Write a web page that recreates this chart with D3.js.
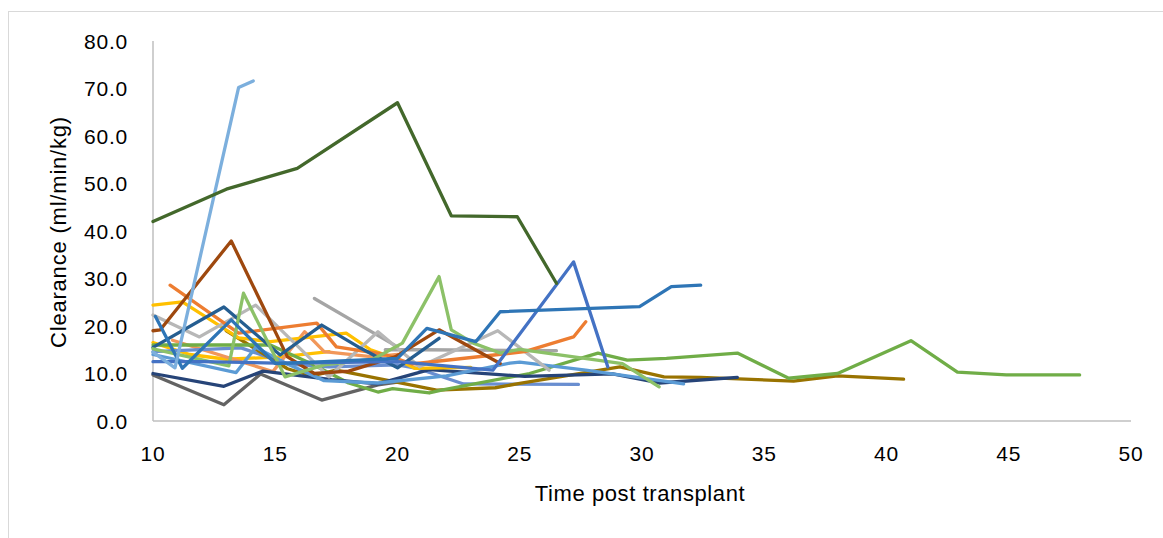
<!DOCTYPE html>
<html>
<head>
<meta charset="utf-8">
<script src="https://cdn.jsdelivr.net/npm/d3@7"></script>
<style>
  body { margin: 0; background: #fff; }
  text { font-family: "Liberation Sans", Arial, sans-serif; fill: #000; }
</style>
</head>
<body>
<div id="chart"></div>
<script>
// Tick values
const xTicks = [10, 15, 20, 25, 30, 35, 40, 45, 50];
const yTicks = [0, 10, 20, 30, 40, 50, 60, 70, 80];

// One array per patient: [time, clearance]
const darkGreen = [[10, 42], [13, 48.8], [15.9, 53.2], [20, 67], [22.2, 43.2], [24.9, 43], [26.5, 29]];
const skyBlue = [[10, 14.5], [10.9, 11.2], [13.5, 70.2], [14.1, 71.6]];
const brown = [[10, 19], [10.3, 19.2], [13.2, 37.9], [15.5, 13.5], [16.6, 10], [18, 10.5], [19.9, 13.5], [21.7, 19.2], [24.2, 12.1]];
const orange = [[10.7, 28.6], [13.5, 18.5], [16.7, 20.6], [17.5, 15.6], [19.5, 14], [20.6, 12], [25.2, 14.6], [27.2, 17.7], [27.7, 20.9]];
const lightOrange = [[10.8, 17], [14.9, 10.4], [16.2, 18.8], [17, 14.6], [19, 13.5], [20, 14]];
const gray1 = [[10, 22.3], [11.9, 17.7], [14.2, 24.4], [17.2, 9.3], [19.2, 18.8], [20.9, 11.4], [24.1, 19], [26.2, 10.7]];
const gray2 = [[16.6, 25.8], [20, 15.6]];
const gray3 = [[19.5, 15], [21, 15], [26.5, 14.8]];
const gold = [[10, 24.4], [11.2, 25.1], [13.5, 17.5], [14.8, 16.7], [17.9, 18.5], [18.9, 15], [19.9, 13.2], [20.7, 11.1], [23, 11.3]];
const gold2 = [[10, 16.5], [11.5, 14], [13, 13], [15.2, 13.5], [17.2, 14.6]];
const blue2 = [[10, 14], [13.4, 10.2], [14.2, 15.5], [15.5, 12], [17, 8.5], [19.2, 8], [22, 9.5], [24.6, 12.2], [25, 12.4], [27.7, 10.7], [31.7, 7.8]];
const green = [[10, 16], [14.8, 16], [16.5, 12], [18, 8], [19.2, 6.1], [19.8, 6.8], [21.3, 5.9], [21.8, 6.5], [25.4, 10], [28.2, 14.3], [29.4, 12.8], [31, 13.2], [33.9, 14.3], [36, 9], [38, 10], [41, 16.9], [42.9, 10.3], [44.9, 9.7], [47.9, 9.7]];
const lightGreen = [[10, 15.2], [13.1, 11.6], [13.7, 26.9], [15.4, 9.3], [17, 11.8], [19, 13], [20.2, 16.4], [21.7, 30.4], [22.2, 19.2], [23.1, 16.4], [24.2, 14.3], [25, 15.1], [29.2, 12.1], [30.7, 7.2]];
const navy = [[10, 10], [12.9, 7.3], [14.5, 10.5], [17.3, 8.7], [19.2, 7.8], [21.3, 10.8], [25.2, 9.4], [28.8, 9.9], [30.7, 8], [33.9, 9.2]];
const darkGray = [[10, 9.7], [12.9, 3.4], [14.4, 9.9], [16.9, 4.4], [19.2, 7.6], [20, 8.2]];
const darkGold = [[13, 19], [15.5, 11], [16.5, 9.5], [17.5, 10.7], [21.6, 6.5], [24, 7], [25, 7.9], [29.1, 11.4], [30.9, 9.3], [32.4, 9.2], [36.2, 8.4], [38, 9.5], [40.7, 8.8]];
const blue = [[10, 12.5], [12, 12.5], [15, 12.2], [17, 12.3], [20, 12.5], [23.9, 10.7], [27.2, 33.5], [28.6, 11.4]];
const lavender = [[10, 14.6], [13.6, 15.4], [15.5, 12], [17.2, 11.4], [20, 11.8], [20.8, 11.1], [22.7, 7.8], [27.4, 7.7]];
const steelBlue = [[10, 15.5], [12.9, 24], [15.2, 13.9], [16.9, 20.2], [18.5, 15.3], [20, 11.2], [21.7, 17.4]];
const midBlue = [[10.1, 22], [11.2, 11.1], [13.2, 21.3], [15, 12.1], [17, 12.5], [20, 13.2], [21.2, 19.5], [23.2, 16.7], [24.2, 23], [29.9, 24.1], [31.2, 28.3], [32.4, 28.6]];

const seriesList = [gray3, gold2, lightOrange, darkGray, lavender, gray2, darkGold, green, navy, blue2, gold, gray1, orange, brown, steelBlue, lightGreen, blue, midBlue, skyBlue, darkGreen];
const seriesColors = ["#a5a5a5", "#ffc000", "#f1975a", "#636363", "#698ed0", "#a5a5a5", "#997300", "#70ad47", "#264478", "#5b9bd5", "#ffc000", "#b7b7b7", "#ed7d31", "#9e480e", "#255e91", "#8cc168", "#4472c4", "#2e75b6", "#7cafdd", "#43682b"];

const W = 1163, H = 538;
const margin = {top: 41, right: 32, bottom: 117, left: 153};
const width = W - margin.left - margin.right,
      height = H - margin.top - margin.bottom;

const root = d3.select("#chart")
  .append("svg")
    .attr("width", W)
    .attr("height", H);

// Outer chart border
root.append("rect")
  .attr("x", 8.5).attr("y", 11.5)
  .attr("width", 1170).attr("height", 540)
  .attr("fill", "none")
  .attr("stroke", "#d9d9d9");

const svg = root.append("g")
  .attr("transform", `translate(${margin.left},${margin.top})`);

const x = d3.scaleLinear().domain([10, 50]).range([0, width]);
const y = d3.scaleLinear().domain([0, 80]).range([height, 0]);

// Axis lines
svg.append("line")
  .attr("x1", 0).attr("x2", 0).attr("y1", 0).attr("y2", height)
  .attr("stroke", "#bfbfbf").attr("stroke-width", 1.5);
svg.append("line")
  .attr("x1", 0).attr("x2", width).attr("y1", height).attr("y2", height)
  .attr("stroke", "#bfbfbf").attr("stroke-width", 1.5);

// Tick labels
svg.append("g").selectAll("text")
  .data(yTicks)
  .enter().append("text")
    .attr("x", -25)
    .attr("y", d => y(d) + 7.5)
    .attr("text-anchor", "end")
    .style("font-size", "21px")
    .style("letter-spacing", "0.8px")
    .text(d => d.toFixed(1));

svg.append("g").selectAll("text")
  .data(xTicks)
  .enter().append("text")
    .attr("x", d => x(d))
    .attr("y", height + 40)
    .attr("text-anchor", "middle")
    .style("font-size", "21px")
    .style("letter-spacing", "0.8px")
    .text(d => d);

// Lines
const line = d3.line()
  .x(d => x(d[0]))
  .y(d => y(d[1]));

svg.append("g").selectAll("path")
  .data(seriesList)
  .enter().append("path")
    .attr("fill", "none")
    .attr("stroke", (d, i) => seriesColors[i])
    .attr("stroke-width", 3.3)
    .attr("stroke-linejoin", "round")
    .attr("stroke-linecap", "round")
    .attr("d", line);

// Axis titles
root.append("text")
  .attr("x", 640)
  .attr("y", 501)
  .attr("text-anchor", "middle")
  .style("font-size", "22px")
  .style("letter-spacing", "0.6px")
  .text("Time post transplant");

root.append("text")
  .attr("transform", "translate(66,232) rotate(-90)")
  .attr("text-anchor", "middle")
  .style("font-size", "22px")
  .style("letter-spacing", "0.8px")
  .text("Clearance (ml/min/kg)");
</script>
</body>
</html>
